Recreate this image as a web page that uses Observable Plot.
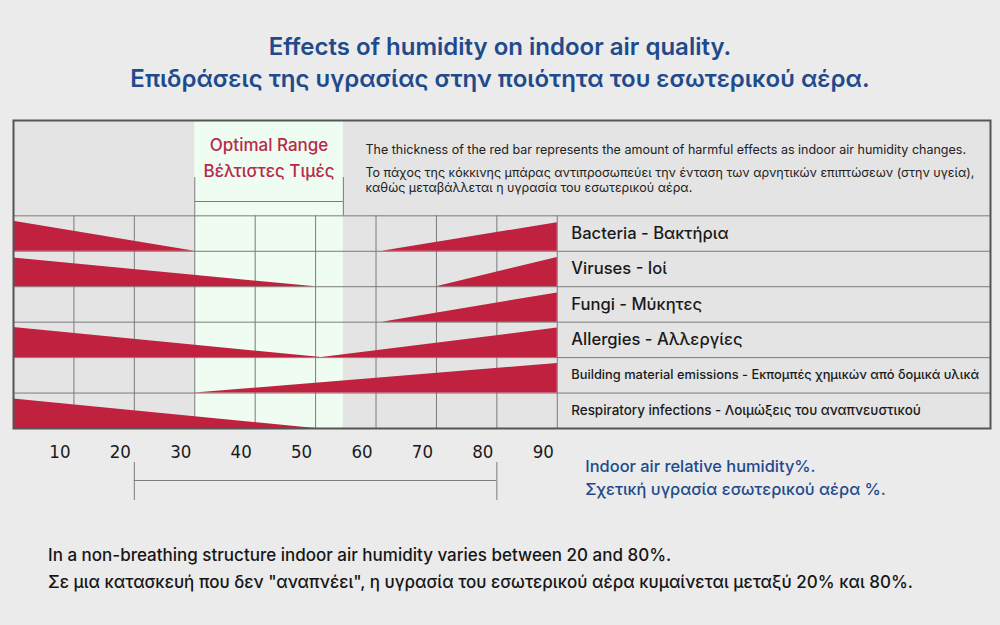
<!DOCTYPE html>
<html><head><meta charset="utf-8">
<script src="https://cdn.jsdelivr.net/npm/d3@7"></script>
<script src="https://cdn.jsdelivr.net/npm/@observablehq/plot@0.6"></script>
<style>
body{margin:0;background:#ebebeb;font-family:Inter,"Noto Sans",sans-serif;width:1000px;height:625px;overflow:hidden}
.title{height:110px;box-sizing:border-box;padding-top:31px;text-align:center;color:#1f4a8c;font-size:24px;font-weight:600;line-height:32px}
.caption{margin-top:22px;padding-left:48px;font-size:17px;font-weight:500;line-height:27px;color:#161616}
#chart svg{display:block}
</style></head><body>
<div class="title">
  <div>Effects of humidity on indoor air quality.</div>
  <div>Επιδράσεις της υγρασίας στην ποιότητα του εσωτερικού αέρα.</div>
</div>
<div id="chart"></div>
<div class="caption">
  <div>In a non-breathing structure indoor air humidity varies between 20 and 80%.</div>
  <div>Σε μια κατασκευή που δεν "αναπνέει", η υγρασία του εσωτερικού αέρα κυμαίνεται μεταξύ 20% και 80%.</div>
</div>
<script>
// ---- data ----
const categories = [
  "Bacteria - Βακτήρια",
  "Viruses - Ioί",
  "Fungi - Μύκητες",
  "Allergies - Αλλεργίες",
  "Building material emissions - Εκπομπές χημικών από δομικά υλικά",
  "Respiratory infections - Λοιμώξεις του αναπνευστικού"
];
// [humidity %, relative thickness of harmful effect]
const bacteria    = [[0, 1.00], [30, 0], [61, 0], [90, 0.95]];
const viruses     = [[0, 0.95], [50, 0], [70, 0], [90, 0.97]];
const fungi       = [[61, 0], [90, 0.97]];
const allergies   = [[0, 1.00], [51, 0], [90, 0.98]];
const emissions   = [[30, 0], [90, 0.98]];
const respiratory = [[0, 0.98], [50, 0]];
const series = [bacteria, viruses, fungi, allergies, emissions, respiratory];
const tickLabels = [10, 20, 30, 40, 50, 60, 70, 80, 90];
const optimalRange = [30, 54.6];
const structureRange = [20, 80];

// ---- layout helpers ----
const X_MAX = 161.7, Y_TOP = -2.69, N = categories.length;
const H = 410, MT = 10, MB = 92;
const unit = (H - MT - MB) / (N - Y_TOP);
const Y = px => Y_TOP + (px - MT) / unit; // svg px -> y units (annotations only)
const RED = "#c0213f", GRID = "#7b7b7b", BLUE = "#1f4a8c";
const labelSizes = [16.6, 16.6, 16.6, 16.6, 12.85, 13.4];

const pts = series.flatMap((s, i) => s.map(([h, t]) => ({cat: categories[i], h, base: i + 1, top: i + 1 - t * 0.85})));

const chart = Plot.plot({
  width: 1000, height: H,
  marginLeft: 13, marginRight: 10, marginTop: MT, marginBottom: MB,
  x: {domain: [0, X_MAX], axis: null},
  y: {domain: [Y_TOP, N], reverse: true, axis: null},
  style: {background: "transparent", fontFamily: "Inter, 'Noto Sans', sans-serif"},
  marks: [
    Plot.frame({fill: "#e4e4e4", stroke: "none"}),
    Plot.rect([optimalRange], {x1: d => d[0], x2: d => d[1], y1: Y_TOP, y2: N, fill: "#effcf1"}),
    Plot.ruleX([...tickLabels], {y1: 0, y2: N, stroke: GRID, strokeWidth: 1}),
    Plot.ruleY(d3.range(0, N + 1), {x1: 0, x2: X_MAX, stroke: GRID, strokeWidth: 1}),
    Plot.areaY(pts, {x: "h", y1: "base", y2: "top", z: "cat", fill: RED}),
    Plot.text(categories, {x: 90, y: (d, i) => i + 0.5, dx: 14, text: d => d, textAnchor: "start",
      fontSize: (d, i) => labelSizes[i], fontWeight: 500, fill: "#1a1a1a"}),
    // optimal range header
    Plot.ruleX(optimalRange, {y1: Y(67), y2: 0, stroke: GRID}),
    Plot.ruleY([Y(91)], {x1: optimalRange[0], x2: optimalRange[1], stroke: GRID}),
    Plot.text(["Optimal Range", "Βέλτιστες Τιμές"], {x: (optimalRange[0] + optimalRange[1]) / 2, y: (d, i) => Y(35 + i * 26),
      text: d => d, fontSize: 17, fontWeight: 500, fill: "#b8294a"}),
    Plot.text([
      "The thickness of the red bar represents the amount of harmful effects as indoor air humidity changes.",
      "Το πάχος της κόκκινης μπάρας αντιπροσωπεύει την ένταση των αρνητικών επιπτώσεων (στην υγεία),",
      "καθώς μεταβάλλεται η υγρασία του εσωτερικού αέρα."
    ], {x: 0, dx: 352, y: (d, i) => Y([39, 62, 77][i]), text: d => d, textAnchor: "start", fontSize: 12.5, fill: "#222"}),
    Plot.frame({stroke: "#555", strokeWidth: 2}),
    // x axis
    Plot.axisX(tickLabels, {anchor: "bottom", tickSize: 0, tickPadding: 16, dx: -14, fontSize: 18.5,
      fontFamily: "'DejaVu Sans Condensed', 'Liberation Sans Narrow', sans-serif", fill: "#1a1a1a", label: null}),
    Plot.text(["Indoor air relative humidity%.", "Σχετική υγρασία εσωτερικού αέρα %."],
      {x: 90, dx: 28, y: (d, i) => Y(356 + i * 23), text: d => d, textAnchor: "start", fontSize: 16.4, fontWeight: 500, fill: BLUE}),
    // structure range bracket
    Plot.ruleX(structureRange, {y1: Y(352), y2: Y(390), stroke: GRID}),
    Plot.ruleY([Y(370)], {x1: structureRange[0], x2: structureRange[1], stroke: GRID})
  ]
});
document.getElementById("chart").append(chart);
</script>
</body></html>
